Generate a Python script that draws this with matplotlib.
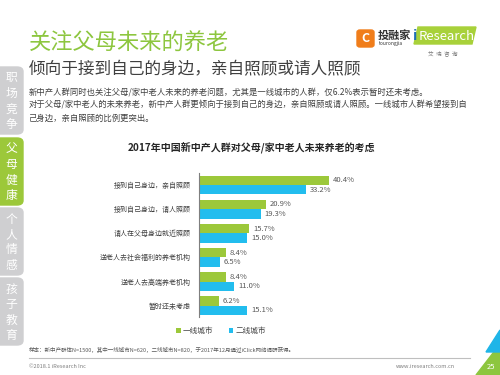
import matplotlib
matplotlib.use("Agg")
import matplotlib.pyplot as plt
from matplotlib.patches import Rectangle, Polygon, FancyBboxPatch

plt.rcParams['font.family'] = ['Noto Sans CJK SC', 'DejaVu Sans']

# --- dados ---
categorias = ['接到自己身边，亲自照顾', '接到自己身边，请人照顾', '请人在父母身边就近照顾',
              '送老人去社会福利的养老机构', '送老人去高端养老机构', '暂时还未考虑']
tier1 = [40.4, 20.9, 15.7, 8.4, 8.4, 6.2]
tier2 = [33.2, 19.3, 15.0, 6.5, 11.0, 15.1]
series_names = ['一线城市', '二线城市']
tabs = ['职场竞争', '父母健康', '个人情感', '孩子教育']

GREEN = '#9CC83A'
BLUE = '#22BDEE'
GRAY_TXT = '#595959'

W, H = 500, 375
fig = plt.figure(figsize=(5, 3.75), dpi=100)


def fx(x):
    return x / W


def fy(y):
    return 1 - y / H


def txt(x, y, s, **kw):
    fig.text(fx(x), fy(y), s, **kw)


# --- cabeçalho ---
txt(29, 43, '关注父母未来的养老', fontsize=16, color='#8DC63F', va='center', weight='light')
txt(29, 70, '倾向于接到自己的身边，亲自照顾或请人照顾', fontsize=12, color='#404040', va='center',
    weight='light')
corpo = ['新中产人群同时也关注父母/家中老人未来的养老问题，尤其是一线城市的人群，仅6.2%表示暂时还未考虑。',
         '对于父母/家中老人的未来养老，新中产人群更倾向于接到自己的身边，亲自照顾或请人照顾。一线城市人群希望接到自',
         '己身边，亲自照顾的比例更突出。']
for i, linha in enumerate(corpo):
    txt(29, 92 + i * 13, linha, fontsize=6, color='#404040', va='center', weight='light')

# logo
fig.patches.append(FancyBboxPatch((fx(357), fy(47)), 17 / W, 17 / H, transform=fig.transFigure,
                                  boxstyle='round,pad=0,rounding_size=0.006', color='#F07D1A'))
txt(365.5, 38.5, 'C', fontsize=9, color='white', weight='bold', ha='center', va='center')
txt(378, 35, '投融家', fontsize=8, weight='bold', color='#333333', va='center')
txt(379, 44, 'tourongjia', fontsize=3.5, color='#333333', va='center')
fig.patches.append(Polygon([(fx(414), fy(44)), (fx(418), fy(27)), (fx(476), fy(27)), (fx(472), fy(44))],
                           closed=True, transform=fig.transFigure, color='#A8D13A'))
txt(413, 36, 'i', fontsize=10, color='#1E6FB5', weight='bold', va='center')
txt(419, 36, 'Research', fontsize=9.5, color='white', va='center')
txt(443, 53, '艾  瑞  咨  询', fontsize=4, color='#777777', ha='center', va='center')

# abas laterais
tab_y = [(67, 134), (138, 205), (208, 275), (278, 345)]
for i, (nome, (y0, y1)) in enumerate(zip(tabs, tab_y)):
    cor = GREEN if i == 1 else '#CFCFD1'
    fig.patches.append(FancyBboxPatch((fx(-6), fy(y1)), 29 / W, (y1 - y0) / H,
                                      boxstyle='round,pad=0,rounding_size=0.012',
                                      transform=fig.transFigure, color=cor))
    for j, ch in enumerate(nome):
        txt(11.5, y0 + 11 + j * 15.5, ch, fontsize=8.5, color='white', ha='center', va='center',
            weight='light')

# --- gráfico ---
txt(252, 147, '2017年中国新中产人群对父母/家中老人未来养老的考虑', fontsize=7.2,
    weight='bold', color='#262626', ha='center', va='center')

ax = fig.add_axes([fx(199), fy(317), 160 / W, (317 - 173) / H])
pos = list(range(len(categorias)))
h = 0.39
ax.barh([p - h / 2 for p in pos], tier1, height=h, color=GREEN, label=series_names[0])
ax.barh([p + h / 2 for p in pos], tier2, height=h, color=BLUE, label=series_names[1])
for p, v in zip(pos, tier1):
    ax.text(v + 1.2, p - h / 2, f'{v:.1f}%', fontsize=5.5, color=GRAY_TXT, va='center')
for p, v in zip(pos, tier2):
    ax.text(v + 1.2, p + h / 2, f'{v:.1f}%', fontsize=5.5, color=GRAY_TXT, va='center')

ax.set_xlim(0, 160 / 3.21)
ax.set_ylim(5.47, -0.5)
ax.set_yticks(pos)
ax.set_yticklabels(categorias, fontsize=5, color='#404040')
ax.tick_params(axis='y', length=0, pad=6)
ax.set_xticks([])
for s in ['top', 'right', 'bottom']:
    ax.spines[s].set_visible(False)
ax.spines['left'].set_color('#7F7F7F')
ax.spines['left'].set_linewidth(0.8)
ax.patch.set_alpha(0)

ax.legend(ncol=2, loc='center', bbox_to_anchor=(fx(221), fy(331)), bbox_transform=fig.transFigure,
          frameon=False, fontsize=5.5, handlelength=0.6, handleheight=0.6, handletextpad=0.3,
          columnspacing=2.0, labelcolor='#404040')

# --- rodapé ---
txt(29, 350, '样本：新中产群体N=1500，其中一线城市N=620，二线城市N=820，于2017年12月通过iClick网络调研获得。',
    fontsize=4, color=GRAY_TXT, va='center')
fig.add_artist(plt.Line2D([fx(29), fx(470)], [fy(358), fy(358)], color='#BFBFBF', lw=0.8))
txt(29, 367, '©2018.1 iResearch Inc', fontsize=4, color='#7F7F7F', va='center')
txt(455, 367, 'www.iresearch.com.cn', fontsize=4, color='#7F7F7F', ha='right', va='center')

fig.patches.append(Polygon([(fx(476), fy(375)), (fx(500), fy(344)), (fx(500), fy(375))],
                           closed=True, transform=fig.transFigure, color='#8DC63F'))
fig.patches.append(Polygon([(fx(486), fy(352)), (fx(500), fy(330)), (fx(500), fy(352))],
                           closed=True, transform=fig.transFigure, color='#1FB5E8'))
txt(491, 367, '25', fontsize=5.5, color='white', ha='center', va='center')

fig.savefig('out.png', dpi=100)
